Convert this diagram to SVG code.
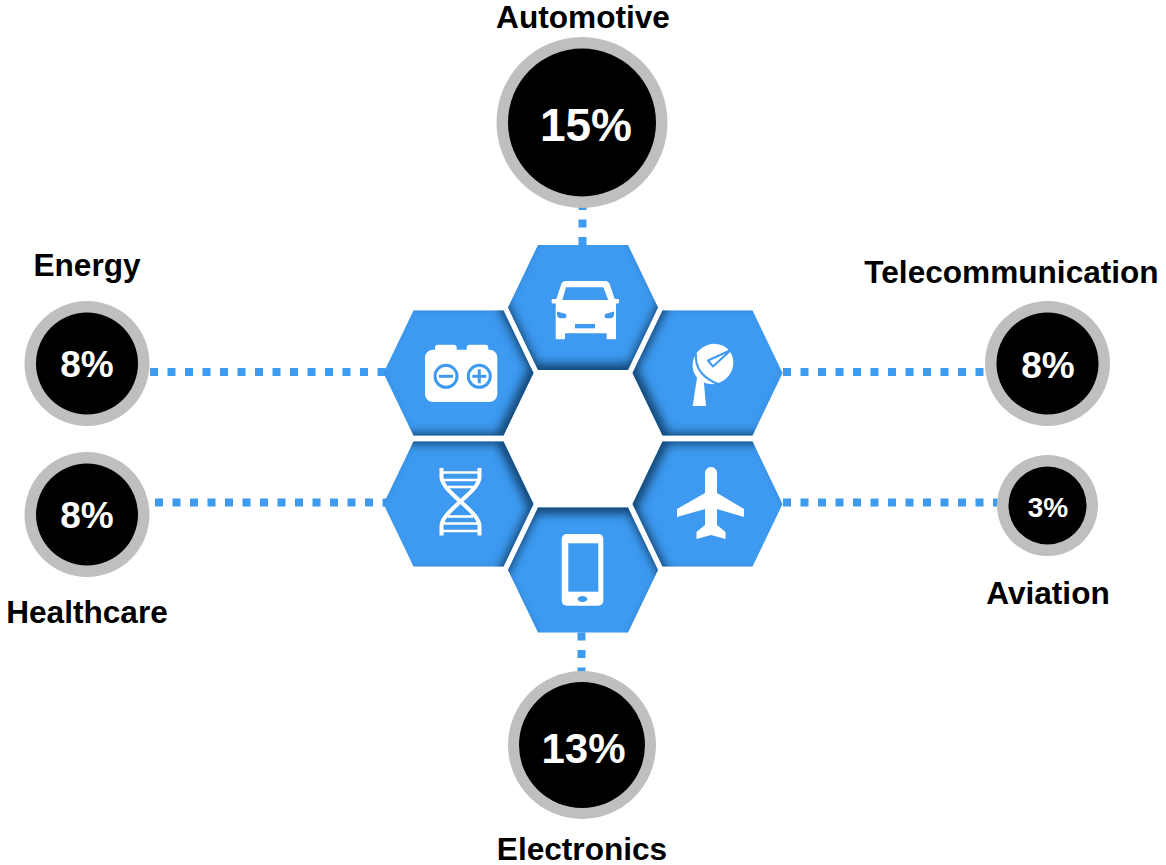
<svg xmlns="http://www.w3.org/2000/svg" width="1166" height="865" viewBox="0 0 1166 865">
<style>
.lbl{font-family:"Liberation Sans",Arial,sans-serif;font-weight:bold;font-size:31.6px;fill:#000;text-anchor:middle}
.pct{font-family:"Liberation Sans",Arial,sans-serif;font-weight:bold;fill:#fff;text-anchor:middle}
.ring{fill:#BFBFBF}
.core{fill:#000}
.hex{fill:#3E9AF0}
.conn{stroke:#3D9BF0;stroke-width:8;stroke-dasharray:8 9.5;fill:none}
.ico{fill:#fff}
.cut{fill:#3E9AF0}
.cutS{fill:none;stroke:#3E9AF0;stroke-width:3}
.strand{fill:none;stroke:#fff;stroke-width:4}
.rung{fill:none;stroke:#fff;stroke-width:2.6}
</style>
<defs>
<polygon id="hexShape" points="-75,0 -45,-62.5 45,-62.5 75,0 45,62.5 -45,62.5"/>
<filter id="sUp" x="-20%" y="-20%" width="140%" height="140%">
<feComponentTransfer in="SourceAlpha"><feFuncA type="table" tableValues="1 0"/></feComponentTransfer>
<feGaussianBlur stdDeviation="4.5"/><feOffset dx="0" dy="-8" result="o"/>
<feComposite in="o" in2="SourceAlpha" operator="in" result="s"/>
<feFlood flood-color="#123a63" flood-opacity="0.9"/><feComposite in2="s" operator="in" result="c"/>
<feMerge><feMergeNode in="SourceGraphic"/><feMergeNode in="c"/></feMerge>
</filter>
<filter id="sUL" x="-20%" y="-20%" width="140%" height="140%">
<feComponentTransfer in="SourceAlpha"><feFuncA type="table" tableValues="1 0"/></feComponentTransfer>
<feGaussianBlur stdDeviation="4.5"/><feOffset dx="-7" dy="-4" result="o"/>
<feComposite in="o" in2="SourceAlpha" operator="in" result="s"/>
<feFlood flood-color="#123a63" flood-opacity="0.9"/><feComposite in2="s" operator="in" result="c"/>
<feMerge><feMergeNode in="SourceGraphic"/><feMergeNode in="c"/></feMerge>
</filter>
<filter id="sUR" x="-20%" y="-20%" width="140%" height="140%">
<feComponentTransfer in="SourceAlpha"><feFuncA type="table" tableValues="1 0"/></feComponentTransfer>
<feGaussianBlur stdDeviation="4.5"/><feOffset dx="7" dy="-4" result="o"/>
<feComposite in="o" in2="SourceAlpha" operator="in" result="s"/>
<feFlood flood-color="#123a63" flood-opacity="0.9"/><feComposite in2="s" operator="in" result="c"/>
<feMerge><feMergeNode in="SourceGraphic"/><feMergeNode in="c"/></feMerge>
</filter>
<filter id="sDL" x="-20%" y="-20%" width="140%" height="140%">
<feComponentTransfer in="SourceAlpha"><feFuncA type="table" tableValues="1 0"/></feComponentTransfer>
<feGaussianBlur stdDeviation="4.5"/><feOffset dx="-7" dy="4" result="o"/>
<feComposite in="o" in2="SourceAlpha" operator="in" result="s"/>
<feFlood flood-color="#123a63" flood-opacity="0.9"/><feComposite in2="s" operator="in" result="c"/>
<feMerge><feMergeNode in="SourceGraphic"/><feMergeNode in="c"/></feMerge>
</filter>
<filter id="sDR" x="-20%" y="-20%" width="140%" height="140%">
<feComponentTransfer in="SourceAlpha"><feFuncA type="table" tableValues="1 0"/></feComponentTransfer>
<feGaussianBlur stdDeviation="4.5"/><feOffset dx="7" dy="4" result="o"/>
<feComposite in="o" in2="SourceAlpha" operator="in" result="s"/>
<feFlood flood-color="#123a63" flood-opacity="0.9"/><feComposite in2="s" operator="in" result="c"/>
<feMerge><feMergeNode in="SourceGraphic"/><feMergeNode in="c"/></feMerge>
</filter>
<filter id="sDn" x="-20%" y="-20%" width="140%" height="140%">
<feComponentTransfer in="SourceAlpha"><feFuncA type="table" tableValues="1 0"/></feComponentTransfer>
<feGaussianBlur stdDeviation="4.5"/><feOffset dx="0" dy="8" result="o"/>
<feComposite in="o" in2="SourceAlpha" operator="in" result="s"/>
<feFlood flood-color="#123a63" flood-opacity="0.9"/><feComposite in2="s" operator="in" result="c"/>
<feMerge><feMergeNode in="SourceGraphic"/><feMergeNode in="c"/></feMerge>
</filter>
</defs>
<rect width="1166" height="865" fill="#fff"/>

<g id="connectors">
<line class="conn" x1="150" y1="372" x2="386" y2="372"/>
<line class="conn" x1="155" y1="502.5" x2="386" y2="502.5"/>
<line class="conn" x1="783" y1="372" x2="990" y2="372"/>
<line class="conn" x1="783" y1="502.5" x2="1000" y2="502.5"/>
<line class="conn" x1="582.5" y1="245" x2="582.5" y2="200"/>
<line class="conn" x1="581.5" y1="632.5" x2="581.5" y2="680"/>
</g>

<g id="hex-automotive">
<use href="#hexShape" class="hex" transform="translate(583,307.5)" filter="url(#sUp)"/>
<path class="ico" d="M556,300 L561,285 Q562,281 566,281 L605,281 Q609,281 610,285 L615,300 Z"/>
<rect class="ico" x="551.7" y="299" width="67.3" height="4.5" rx="1"/>
<rect class="ico" x="555.7" y="298" width="60.3" height="35.3" rx="3"/>
<rect class="ico" x="555.7" y="330" width="9.3" height="9.3" rx="1"/>
<rect class="ico" x="606.7" y="330" width="9.3" height="9.3" rx="1"/>
<polygon class="cut" points="566,287.3 603.3,287.3 608.3,300 562.3,300"/>
<path class="cut" d="M557,311.5 L566,314 Q567.5,318.3 564,318.3 L560,318.3 Q557,317.5 557,314 Z"/>
<path class="cut" d="M614,311.5 L605,314 Q603.5,318.3 607,318.3 L611,318.3 Q614,317.5 614,314 Z"/>
<rect class="cut" x="575" y="324" width="20" height="4.3"/>
</g>

<g id="hex-energy">
<use href="#hexShape" class="hex" transform="translate(458.5,373)" filter="url(#sUL)"/>
<rect class="ico" x="435" y="344.7" width="21.7" height="10" rx="3"/>
<rect class="ico" x="466.7" y="344.7" width="21.6" height="10" rx="3"/>
<rect class="ico" x="425" y="349.7" width="72.3" height="52.3" rx="8"/>
<circle class="cutS" cx="446" cy="376.3" r="11"/>
<line class="cutS" x1="439" y1="376.3" x2="453" y2="376.3"/>
<circle class="cutS" cx="479.3" cy="376.3" r="11"/>
<line class="cutS" x1="472.3" y1="376.3" x2="486.3" y2="376.3"/>
<line class="cutS" x1="479.3" y1="369.3" x2="479.3" y2="383.3"/>
</g>

<g id="hex-telecom">
<use href="#hexShape" class="hex" transform="translate(707.5,373)" filter="url(#sUR)"/>
<polygon class="ico" points="697.3,376 703.3,376 706,406 692.7,406"/>
<ellipse class="ico" cx="713" cy="364" rx="21" ry="19.5" transform="rotate(-40 713 364)"/>
<path d="M696,354 Q694,375 720,385" fill="none" stroke="#3E9AF0" stroke-width="2"/>
<polygon points="708,360.5 731,350 713,366.5" fill="#fff" stroke="#3E9AF0" stroke-width="2" stroke-linejoin="round"/>
</g>

<g id="hex-healthcare">
<use href="#hexShape" class="hex" transform="translate(458.5,504)" filter="url(#sDL)"/>
<path class="strand" d="M441.5,468 L441.5,477 C441.5,492 479.5,511 479.5,526 L479.5,535.5"/>
<path class="strand" d="M479.5,468 L479.5,477 C479.5,492 441.5,511 441.5,526 L441.5,535.5"/>
<line class="rung" x1="441.5" y1="472.5" x2="479.5" y2="472.5"/>
<line class="rung" x1="442" y1="480" x2="479" y2="480"/>
<line class="rung" x1="448" y1="487" x2="473" y2="487"/>
<line class="rung" x1="448" y1="516.5" x2="473" y2="516.5"/>
<line class="rung" x1="442" y1="523.5" x2="479" y2="523.5"/>
<line class="rung" x1="441.5" y1="531" x2="479.5" y2="531"/>
</g>

<g id="hex-aviation">
<use href="#hexShape" class="hex" transform="translate(707.5,504)" filter="url(#sDR)"/>
<path class="ico" d="M705,473 A6,6 0 0 1 717,473 L717,493 L744,509 L744,517 L717,509 L717,525 L725.5,532 L725.5,539 L711,535 L696.5,539 L696.5,532 L705,525 L705,509 L677,517 L677,509 L705,493 Z"/>
</g>

<g id="hex-electronics">
<use href="#hexShape" class="hex" transform="translate(583,570)" filter="url(#sDn)"/>
<rect class="ico" x="561.7" y="534" width="41.6" height="71.7" rx="5"/>
<rect class="cut" x="568.3" y="543.3" width="30" height="48.4"/>
<ellipse class="cut" cx="582.5" cy="599" rx="5" ry="3"/>
</g>

<g id="node-automotive">
<text class="lbl" x="583" y="28">Automotive</text>
<circle class="ring" cx="582" cy="122.5" r="85.5"/>
<circle class="core" cx="582" cy="122.5" r="74"/>
<text class="pct" x="586" y="141" font-size="46">15%</text>
</g>

<g id="node-energy">
<text class="lbl" x="87" y="276">Energy</text>
<circle class="ring" cx="87" cy="363.5" r="62.5"/>
<circle class="core" cx="87" cy="363.5" r="51"/>
<text class="pct" x="87" y="377" font-size="37">8%</text>
</g>

<g id="node-healthcare">
<circle class="ring" cx="87" cy="514.5" r="62.5"/>
<circle class="core" cx="87" cy="514.5" r="51"/>
<text class="pct" x="87" y="528" font-size="37">8%</text>
<text class="lbl" x="87" y="623">Healthcare</text>
</g>

<g id="node-telecom">
<text class="lbl" x="1011.5" y="283">Telecommunication</text>
<circle class="ring" cx="1047.5" cy="363.5" r="62.5"/>
<circle class="core" cx="1047.5" cy="363.5" r="51"/>
<text class="pct" x="1048" y="377.5" font-size="37">8%</text>
</g>

<g id="node-aviation">
<circle class="ring" cx="1047.5" cy="505.5" r="50.5"/>
<circle class="core" cx="1047.5" cy="505.5" r="39"/>
<text class="pct" x="1048" y="516.5" font-size="28">3%</text>
<text class="lbl" x="1048" y="604">Aviation</text>
</g>

<g id="node-electronics">
<circle class="ring" cx="582" cy="745" r="74"/>
<circle class="core" cx="582" cy="745" r="63"/>
<text class="pct" x="583.5" y="763" font-size="42">13%</text>
<text class="lbl" x="582" y="860">Electronics</text>
</g>
</svg>
